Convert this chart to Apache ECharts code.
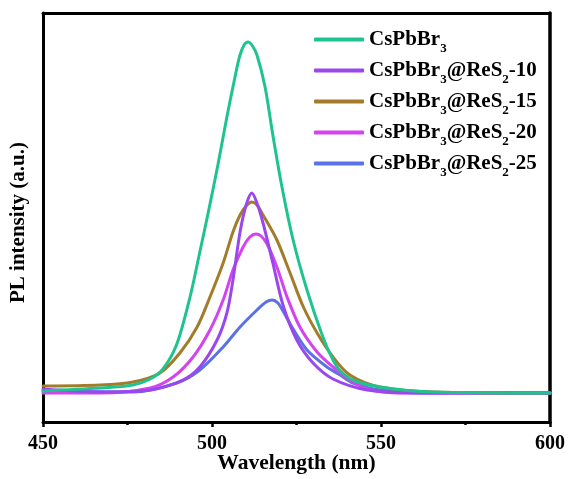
<!DOCTYPE html>
<html>
<head>
<meta charset="utf-8">
<script src="https://cdn.jsdelivr.net/npm/echarts@6/dist/echarts.min.js"></script>
<style>
  html, body { margin: 0; padding: 0; background: #fff; }
  #chart { width: 569px; height: 479px; }
</style>
</head>
<body>
<div id="chart"></div>
<script>
// PL spectra (wavelength in nm, intensity in arbitrary units)
const names = ["CsPbBr3", "CsPbBr3@ReS2-10", "CsPbBr3@ReS2-15", "CsPbBr3@ReS2-20", "CsPbBr3@ReS2-25"]
const colors = ["#1fc390", "#9a47ee", "#a27c2b", "#d443f0", "#5a72e6"]

const wlPure = [450, 466.9, 476.6, 481.7, 485.5, 489.6, 493.5, 496.4, 498.8, 501.8, 504.4, 506.5, 508.2, 509.5, 510.7, 511.8, 513.3, 515.7, 518, 520.7, 524, 528.1, 532.8, 535.8, 538, 541.7, 549.7, 565.4, 600]
const iPure = [31, 34, 37, 43, 53, 78, 125, 170, 208, 258, 305, 340, 366, 377, 380, 377, 367, 335, 287, 235, 182, 132, 85, 62, 51, 42, 35, 30, 29]

const wl10 = [450, 466.9, 481.7, 491.4, 496.4, 501.5, 504.4, 506.2, 508.3, 510.1, 511.8, 513.3, 515.1, 518, 521, 525.1, 529.9, 535.8, 545.9, 560.7, 600]
const i10 = [33, 30, 32, 42, 55, 82, 109, 142, 190, 217, 229, 219, 199, 159, 117, 82, 59, 43, 32, 29, 29]

const wl15 = [450, 466.9, 476.6, 484.6, 490.5, 495.6, 499.4, 503.3, 506.2, 508.3, 510.1, 511.8, 513.3, 515.1, 519.2, 523.1, 526.9, 531.1, 535.8, 540.8, 549.7, 565.4, 600]
const i15 = [36, 37, 40, 49, 69, 95, 125, 159, 190, 207, 216, 220, 217, 207, 182, 149, 116, 89, 65, 47, 35, 30, 29]

const wl20 = [450, 466.9, 481.7, 488.5, 494.4, 499.4, 503.3, 506.2, 509.2, 511.2, 513, 514.5, 516.3, 519.2, 522.2, 526, 531.1, 535.8, 540.8, 545.9, 555.6, 600]
const i20 = [29, 29, 34, 45, 65, 92, 122, 152, 175, 185, 188, 186, 178, 155, 125, 95, 70, 55, 42, 33, 29, 29]

const wl25 = [450, 476.6, 489.6, 496.4, 503.3, 508.3, 513.3, 516, 517.8, 519.5, 521, 524, 528.1, 534, 537.9, 541.7, 549.7, 565.4, 600]
const i25 = [31, 30, 39, 52, 75, 95, 112, 120, 122, 119, 111, 93, 72, 55, 47, 39, 32, 29, 29]

const xTicks = [450, 500, 550, 600]

const wavelengths = [wlPure, wl10, wl15, wl20, wl25]
const intensities = [iPure, i10, i15, i20, i25]

const serif = "Liberation Serif"

// legend label with subscripts
const legendLabel = (name) => {
  return name
    .replace("CsPbBr3", "{n|CsPbBr}{s|3}")
    .replace("@ReS2", "{n|@ReS}{s|2}")
    .replace(/-(\d+)$/, "{n|-$1}")
}

const chart = echarts.init(document.getElementById("chart"))

chart.setOption({
  animation: false,
  backgroundColor: "#fff",
  grid: { left: 43, right: 19, top: 13, bottom: 57, containLabel: false, outerBoundsMode: "none" },
  legend: {
    orient: "vertical",
    left: 314,
    top: 29,
    padding: 0,
    itemWidth: 50,
    itemHeight: 4,
    itemGap: 5,
    icon: "roundRect",
    data: names,
    formatter: legendLabel,
    textStyle: {
      rich: {
        n: { fontFamily: serif, fontWeight: "bold", fontSize: 21, color: "#000" },
        s: { fontFamily: serif, fontWeight: "bold", fontSize: 13, color: "#000", verticalAlign: "bottom", padding: [0, 0, -5, 0] }
      }
    }
  },
  xAxis: [
    {
      type: "value",
      min: 450,
      max: 600,
      interval: 50,
      name: "Wavelength (nm)",
      nameLocation: "middle",
      nameGap: 30,
      nameMoveOverlap: false,
      nameTextStyle: { fontFamily: serif, fontWeight: "bold", fontSize: 21.5, color: "#000" },
      axisLine: { lineStyle: { color: "#000", width: 3 } },
      axisTick: { show: true, length: 5, lineStyle: { width: 2.5, color: "#000" } },
      minorTick: { show: true, splitNumber: 2, length: 3, lineStyle: { width: 2.5, color: "#000" } },
      splitLine: { show: false },
      axisLabel: {
        fontFamily: serif, fontWeight: "bold", fontSize: 20, color: "#000", margin: 12,
        formatter: v => xTicks.includes(v) ? String(v) : ""
      }
    },
    {
      type: "value",
      position: "top",
      min: 450,
      max: 600,
      axisLine: { show: true, onZero: false, lineStyle: { color: "#000", width: 3 } },
      axisTick: { show: false },
      axisLabel: { show: false },
      splitLine: { show: false }
    }
  ],
  yAxis: [
    {
      type: "value",
      min: 0,
      max: 409,
      name: "PL intensity (a.u.)",
      nameLocation: "middle",
      nameGap: 14,
      nameTextStyle: { fontFamily: serif, fontWeight: "bold", fontSize: 21, color: "#000", padding: [0, 10, 0, 0] },
      axisLine: { show: true, onZero: false, lineStyle: { color: "#000", width: 3 } },
      axisTick: { show: false },
      axisLabel: { show: false },
      splitLine: { show: false }
    },
    {
      type: "value",
      position: "right",
      min: 0,
      max: 409,
      axisLine: { show: true, onZero: false, lineStyle: { color: "#000", width: 3.5 } },
      axisTick: { show: false },
      axisLabel: { show: false },
      splitLine: { show: false }
    }
  ],
  series: names.map((name, k) => ({
    name: name,
    type: "line",
    smooth: 0.3,
    showSymbol: false,
    symbol: "none",
    color: colors[k],
    lineStyle: { width: 3, color: colors[k], cap: "round" },
    data: wavelengths[k].map((w, j) => [w, intensities[k][j]])
  })).reverse()
})
</script>
</body>
</html>
